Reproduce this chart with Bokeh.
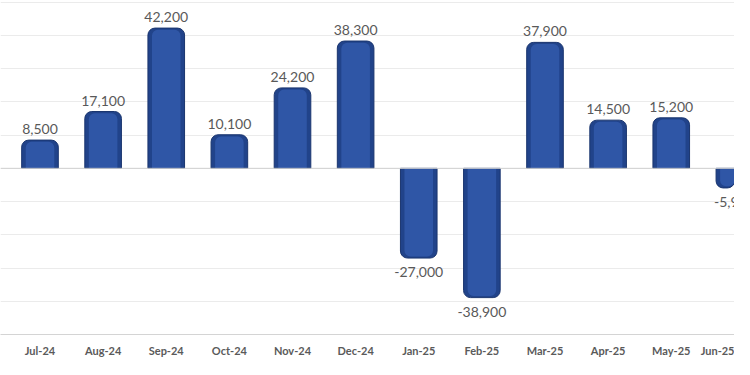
from bokeh.plotting import figure
from bokeh.models import ColumnDataSource, Range1d, FixedTicker, Span
from bokeh.core.properties import value
from bokeh.embed import file_html
from bokeh.resources import INLINE

months = ["Jul-24", "Aug-24", "Sep-24", "Oct-24", "Nov-24", "Dec-24",
          "Jan-25", "Feb-25", "Mar-25", "Apr-25", "May-25", "Jun-25"]
changes = [8500, 17100, 42200, 10100, 24200, 38300,
           -27000, -38900, 37900, 14500, 15200, -5900]
grid_values = [-50000, -40000, -30000, -20000, -10000, 0,
               10000, 20000, 30000, 40000, 50000]

xs = list(range(len(months)))
pos = dict(x=[x for x, v in zip(xs, changes) if v >= 0],
           v=[v for v in changes if v >= 0])
neg = dict(x=[x for x, v in zip(xs, changes) if v < 0],
           v=[v for v in changes if v < 0])
for d in (pos, neg):
    d["lbl"] = [f"{v:,}" for v in d["v"]]
    d["zero"] = [0] * len(d["v"])
    d["inner"] = [v - (500 if v > 0 else -500) for v in d["v"]]

src_pos = ColumnDataSource(pos)
src_neg = ColumnDataSource(neg)

p = figure(width=734, height=359, output_backend="svg", toolbar_location=None,
           x_range=Range1d(-0.6256, 11.002), y_range=Range1d(-50000, 50500),
           min_border_left=0, min_border_right=0, min_border_top=0,
           min_border_bottom=16, outline_line_color=None)
p.background_fill_color = "white"
p.border_fill_color = "white"

p.yaxis.visible = False
p.ygrid.ticker = FixedTicker(ticks=grid_values)
p.ygrid.grid_line_color = "#EBEBEB"
p.ygrid.grid_line_width = 1
p.xgrid.visible = False

p.xaxis.ticker = FixedTicker(ticks=xs)
p.xaxis.major_label_overrides = {i: m for i, m in enumerate(months)}
p.xaxis.major_tick_line_color = None
p.xaxis.minor_tick_line_color = None
p.xaxis.axis_line_color = "#D4D4D4"
p.xaxis.major_label_text_font = "Lato"
p.xaxis.major_label_text_font_style = "bold"
p.xaxis.major_label_text_font_size = "11px"
p.xaxis.major_label_text_color = "#5A5A5A"
p.xaxis.major_label_standoff = 3

p.add_layout(Span(location=0, dimension="width", line_color="#D0D0D0", line_width=1))

bw = 0.58
p.vbar(x="x", bottom="zero", top="v", width=bw, source=src_pos,
       fill_color="#21438A", line_color="#1A356E", line_width=1,
       border_radius=(7, 7, 0, 0))
p.vbar(x="x", bottom="zero", top="inner", width=bw * 0.78, source=src_pos,
       fill_color="#2F56A6", line_color=None, border_radius=(6, 6, 0, 0))
p.vbar(x="x", bottom="v", top="zero", width=bw, source=src_neg,
       fill_color="#21438A", line_color="#1A356E", line_width=1,
       border_radius=(0, 0, 7, 7))
p.vbar(x="x", bottom="inner", top="zero", width=bw * 0.78, source=src_neg,
       fill_color="#2F56A6", line_color=None, border_radius=(0, 0, 6, 6))

p.text(x="x", y="v", text="lbl", source=src_pos, text_align="center",
       text_baseline="bottom", y_offset=-6, text_font=value("Lato"),
       text_font_size="14px", text_color="#595959")
p.text(x="x", y="v", text="lbl", source=src_neg, text_align="center",
       text_baseline="top", y_offset=9, text_font=value("Lato"),
       text_font_size="14px", text_color="#595959")

open("out.html", "w").write(file_html(p, INLINE))
